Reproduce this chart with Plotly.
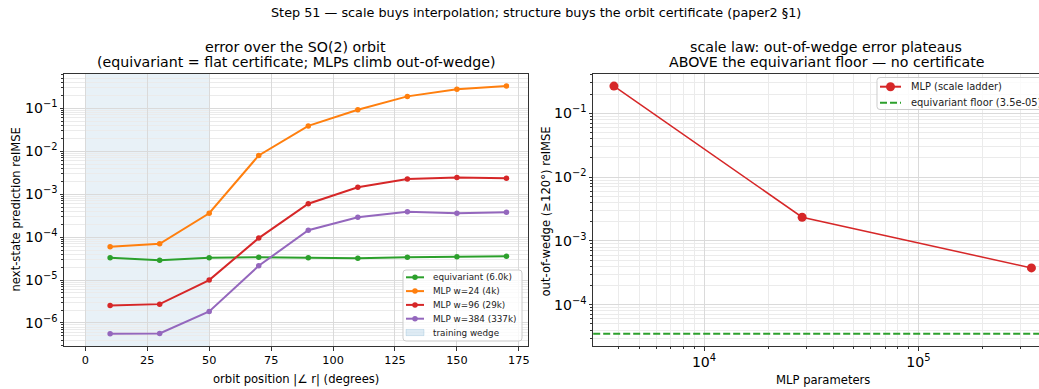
import plotly.graph_objects as go

W, H = 1039, 389

# ---------------- data ----------------
angles = [10, 30, 50, 70, 90, 110, 130, 150, 170]
equivariant = [3.3e-5, 2.9e-5, 3.3e-5, 3.4e-5, 3.3e-5, 3.2e-5, 3.4e-5, 3.5e-5, 3.6e-5]
mlp_w24 = [6.0e-5, 7.0e-5, 3.6e-4, 8.0e-3, 3.9e-2, 9.3e-2, 1.9e-1, 2.8e-1, 3.3e-1]
mlp_w96 = [2.55e-6, 2.75e-6, 1.0e-5, 9.5e-5, 6.0e-4, 1.45e-3, 2.25e-3, 2.45e-3, 2.35e-3]
mlp_w384 = [5.6e-7, 5.7e-7, 1.85e-6, 2.15e-5, 1.45e-4, 2.9e-4, 3.9e-4, 3.6e-4, 3.8e-4]
series_values = [equivariant, mlp_w24, mlp_w96, mlp_w384]
series_names = ["equivariant (6.0k)", "MLP w=24 (4k)", "MLP w=96 (29k)", "MLP w=384 (337k)"]
series_colors = ["#2ca02c", "#ff7f0e", "#d62728", "#9467bd"]

wedge = [0, 50]
wedge_label = "training wedge"

mlp_params = [3800, 28700, 337000]
mlp_oow = [0.267, 2.35e-3, 3.77e-4]
equiv_floor = 3.5e-5
ladder_label = "MLP (scale ladder)"
floor_label = "equivariant floor (3.5e-05)"

left_xticks = [0, 25, 50, 75, 100, 125, 150, 175]

suptitle = "Step 51 — scale buys interpolation; structure buys the orbit certificate (paper2 §1)"
left_title = ["error over the SO(2) orbit",
              "(equivariant = flat certificate; MLPs climb out-of-wedge)"]
right_title = ["scale law: out-of-wedge error plateaus",
               "ABOVE the equivariant floor — no certificate"]
left_xlabel = "orbit position |∠ r| (degrees)"
left_ylabel = "next-state prediction relMSE"
right_xlabel = "MLP parameters"
right_ylabel = "out-of-wedge (≥120°) relMSE"

# ---------------- layout geometry (pixels) ----------------
FONT = "DejaVu Sans"
L_X0, L_X1 = 64.3, 527.5
R_X0, R_X1 = 593.2, 1039.0
Y_TOP, Y_BOT = 74.0, 346.0
WEDGE_FILL = "rgba(31,119,180,0.10)"
GRID = "#dadada"
GRID_MINOR = "#ebebeb"
AXLINE = "#333333"


def fx(x):
    return x / W


def fy(y):
    return 1 - y / H


fig = go.Figure()

for vals, name, col in zip(series_values, series_names, series_colors):
    fig.add_trace(go.Scatter(
        x=angles, y=vals, mode="lines+markers", name=name,
        line=dict(color=col, width=2), marker=dict(color=col, size=5.5),
        xaxis="x", yaxis="y", showlegend=False))

fig.add_trace(go.Scatter(
    x=mlp_params, y=mlp_oow, mode="lines+markers", name=ladder_label,
    line=dict(color="#d62728", width=1.5), marker=dict(color="#d62728", size=9),
    xaxis="x2", yaxis="y2", showlegend=False))

shapes = []
# training wedge
shapes.append(dict(type="rect", xref="x", yref="y domain", x0=wedge[0], x1=wedge[1],
                   y0=0, y1=1, fillcolor=WEDGE_FILL, line=dict(width=0), layer="below"))
# equivariant floor
shapes.append(dict(type="line", xref="x2 domain", yref="y2", x0=0, x1=1,
                   y0=equiv_floor, y1=equiv_floor,
                   line=dict(color="#2ca02c", width=2, dash="7px,3px")))

annotations = []


def rounded_box(x0, y0, x1, y1, r=3):
    X = lambda v: f"{fx(v):.5f}"
    Y = lambda v: f"{fy(v):.5f}"
    p = (f"M {X(x0 + r)},{Y(y0)} L {X(x1 - r)},{Y(y0)} Q {X(x1)},{Y(y0)} {X(x1)},{Y(y0 + r)} "
         f"L {X(x1)},{Y(y1 - r)} Q {X(x1)},{Y(y1)} {X(x1 - r)},{Y(y1)} "
         f"L {X(x0 + r)},{Y(y1)} Q {X(x0)},{Y(y1)} {X(x0)},{Y(y1 - r)} "
         f"L {X(x0)},{Y(y0 + r)} Q {X(x0)},{Y(y0)} {X(x0 + r)},{Y(y0)} Z")
    return dict(type="path", xref="paper", yref="paper", path=p,
                fillcolor="rgba(255,255,255,0.8)", line=dict(color="#cccccc", width=1))


def add_legend(box, entries, hx0, hx1, tx, ys, fsize, msize):
    shapes.append(rounded_box(*box))
    for (kind, col, label), yy in zip(entries, ys):
        if kind in ("line", "dash"):
            shapes.append(dict(type="line", xref="paper", yref="paper",
                               x0=fx(hx0), x1=fx(hx1), y0=fy(yy), y1=fy(yy),
                               line=dict(color=col, width=2,
                                         dash="7px,3px" if kind == "dash" else "solid")))
            if kind == "line":
                cx = (hx0 + hx1) / 2
                r = msize / 2
                shapes.append(dict(type="circle", xref="paper", yref="paper",
                                   x0=fx(cx - r), x1=fx(cx + r), y0=fy(yy + r), y1=fy(yy - r),
                                   fillcolor=col, line=dict(color=col, width=0)))
        else:
            h = fsize * 0.7
            shapes.append(dict(type="rect", xref="paper", yref="paper",
                               x0=fx(hx0), x1=fx(hx1), y0=fy(yy + h / 2), y1=fy(yy - h / 2),
                               fillcolor=col, line=dict(color="rgba(31,119,180,0.15)", width=1)))
        annotations.append(dict(xref="paper", yref="paper", x=fx(tx), y=fy(yy),
                                xanchor="left", yanchor="middle", text=label, showarrow=False,
                                font=dict(family=FONT, size=fsize, color="#222")))


left_entries = [("line", c, n) for c, n in zip(series_colors, series_names)]
left_entries.append(("patch", "rgba(31,119,180,0.15)", wedge_label))
add_legend((403, 270, 522, 341), left_entries, 406, 424, 430.5,
           [277.3, 291.1, 304.9, 318.7, 332.5], 8.8, 5.5)

right_entries = [("line", "#d62728", ladder_label), ("dash", "#2ca02c", floor_label)]
add_legend((877, 77.5, 1060, 109.5), right_entries, 880, 901, 908.5,
           [86.7, 102.7], 9.9, 9)


def text(x, y, s, size, angle=0):
    annotations.append(dict(xref="paper", yref="paper", x=fx(x), y=fy(y), text=s,
                            showarrow=False, xanchor="center", yanchor="middle",
                            textangle=angle,
                            font=dict(family=FONT, size=size, color="#000")))


# titles
text(536, 12.5, suptitle, 12.8)
text((L_X0 + L_X1) / 2, 46.7, left_title[0], 14.2)
text((L_X0 + L_X1) / 2, 61.7, left_title[1], 14.2)
text(826, 46.7, right_title[0], 14.2)
text(826, 61.7, right_title[1], 14.2)
# axis titles
text((L_X0 + L_X1) / 2, 379.5, left_xlabel, 11.6)
text(822.6, 379.5, right_xlabel, 11.6)
text(15.5, 210, left_ylabel, 11.6, -90)
text(545.5, 212, right_ylabel, 11.6, -90)

common = dict(showline=True, linecolor=AXLINE, linewidth=1, ticks="outside", ticklen=3.5,
              tickwidth=0.8, tickcolor=AXLINE, zeroline=False, automargin=False,
              showgrid=True, gridcolor=GRID, gridwidth=0.8,
              tickfont=dict(family=FONT, size=11.3, color="#000"))
minor_log = dict(dtick="D1", ticks="outside", ticklen=2, tickwidth=0.6, tickcolor=AXLINE,
                 showgrid=True, gridcolor=GRID_MINOR, gridwidth=0.8)

ydom = [fy(Y_BOT), fy(Y_TOP)]
fig.update_layout(
    width=W, height=H,
    margin=dict(l=0, r=0, t=0, b=0, pad=0),
    paper_bgcolor="white", plot_bgcolor="white",
    showlegend=False,
    font=dict(family=FONT),
    xaxis=dict(domain=[fx(L_X0), fx(L_X1)], range=[-8.5, 178.5], tickvals=left_xticks,
               anchor="y", mirror=True, **common),
    yaxis=dict(domain=ydom, type="log", range=[-6.536, -0.2], dtick=1,
               exponentformat="power", anchor="x", mirror=True, minor=minor_log, **common),
    xaxis2=dict(domain=[fx(R_X0), fx(R_X1)], type="log", range=[3.483, 5.563], dtick=1,
                exponentformat="power", anchor="y2", mirror=True, minor=minor_log, **common),
    yaxis2=dict(domain=ydom, type="log", range=[-4.647, -0.384], dtick=1,
                exponentformat="power", anchor="x2", mirror=False, minor=minor_log, **common),
    shapes=shapes,
    annotations=annotations,
)

fig.write_html("out.html")
